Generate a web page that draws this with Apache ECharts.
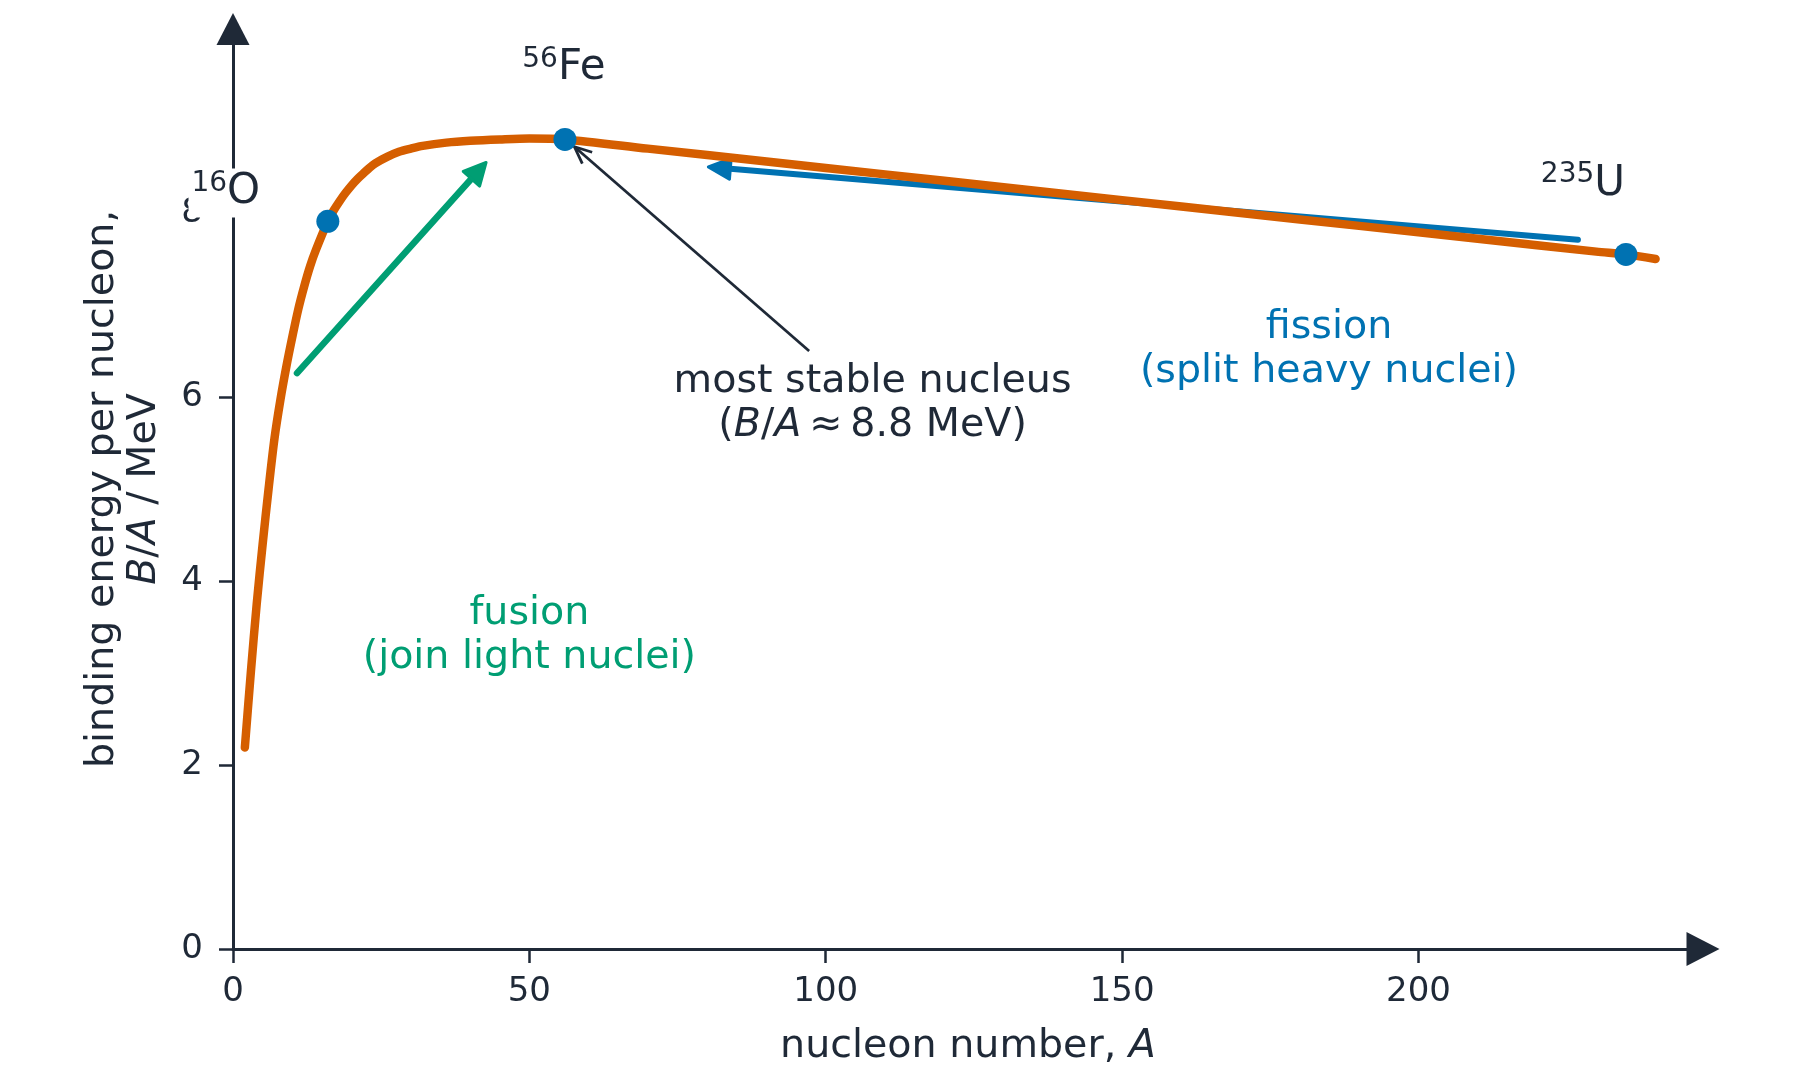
<!DOCTYPE html>
<html>
<head>
<meta charset="utf-8">
<script src="https://cdn.jsdelivr.net/npm/echarts@6/dist/echarts.min.js"></script>
<style>
html, body { margin: 0; padding: 0; background: #fff; }
#main { width: 1800px; height: 1083px; }
</style>
</head>
<body>
<div id="main"></div>
<script>
// binding energy curve
var nucleonA = [2, 3, 4, 5, 6, 7, 8, 9, 10, 11, 12, 13, 14, 16, 17, 18, 19, 20, 21, 22, 23, 24, 26, 28, 30, 32, 36, 40, 45, 50, 56, 70, 90, 110, 130, 150, 170, 190, 210, 230, 235, 240];
var bindingPerA = [2.19, 3.0, 3.75, 4.4, 5.0, 5.55, 5.97, 6.33, 6.65, 6.95, 7.2, 7.42, 7.6, 7.91, 8.03, 8.13, 8.22, 8.3, 8.37, 8.43, 8.49, 8.54, 8.61, 8.665, 8.70, 8.73, 8.765, 8.785, 8.80, 8.81, 8.80, 8.70, 8.56, 8.42, 8.28, 8.14, 8.0, 7.86, 7.72, 7.58, 7.55, 7.50];

// marked nuclides
var nuclideMass = [16, 56, 235];
var nuclideSymbol = ['O', 'Fe', 'U'];
var nuclideBA = [7.91, 8.80, 7.55];

// axis ticks
var xTicks = [0, 50, 100, 150, 200];
var yTicks = [0, 2, 4, 6, 8];

// arrows: [A start, B/A start, A end, B/A end]
var fusionArrow = [10.8, 6.26, 42.7, 8.55];
var fissionArrow = [226.9, 7.71, 80.2, 8.50];
var stableArrow = [97.2, 6.50, 57.6, 8.72];

// text notes: position (A, B/A)
var stableNote = [107.9, 5.93];
var fissionNote = [184.9, 6.51];
var fusionNote = [50.0, 3.41];

var ink = '#1f2937';
var orange = '#d55e00';
var blue = '#0072b2';
var green = '#009e73';
var font = 'DejaVu Sans';

var chartDom = document.getElementById('main');
var myChart = echarts.init(chartDom);

var curve = [];
for (var i = 0; i < nucleonA.length; i++) {
    curve.push([nucleonA[i], bindingPerA[i]]);
}

// label offsets for the nuclide names
var labelOffsets = [[-101.5, -28.2], [-1, -71], [-43, -70.5]];
var nuclides = [];
for (var j = 0; j < nuclideMass.length; j++) {
    var lab = {
        show: true,
        position: 'inside',
        offset: labelOffsets[j],
        formatter: '{sup|' + nuclideMass[j] + '}{el|' + nuclideSymbol[j] + '}',
        rich: {
            sup: { fontSize: 28, fontFamily: font, color: ink, lineHeight: 18, verticalAlign: 'top' },
            el: { fontSize: 42, fontFamily: font, color: ink, lineHeight: 46 }
        }
    };
    if (j === 0) {
        // white box behind 16O hides part of the axis
        lab.backgroundColor = '#fff';
        lab.borderRadius = 8;
        lab.padding = [1, 4, 2, 3];
    }
    nuclides.push({ value: [nuclideMass[j], nuclideBA[j]], label: lab });
}

function arrowRender(color, width, headLen, headWid, open) {
    return function (params, api) {
        var p0 = api.coord([api.value(0), api.value(1)]);
        var p1 = api.coord([api.value(2), api.value(3)]);
        var ang = Math.atan2(p1[1] - p0[1], p1[0] - p0[0]);
        var bx = p1[0] - headLen * Math.cos(ang);
        var by = p1[1] - headLen * Math.sin(ang);
        var nx = -Math.sin(ang) * headWid / 2;
        var ny = Math.cos(ang) * headWid / 2;
        var a = [bx + nx, by + ny];
        var b = [bx - nx, by - ny];
        var kids = [];
        if (open) {
            kids.push({ type: 'line', shape: { x1: p0[0], y1: p0[1], x2: p1[0], y2: p1[1] },
                style: { stroke: color, lineWidth: width } });
            kids.push({ type: 'polyline', shape: { points: [a, p1, b] },
                style: { stroke: color, lineWidth: width, fill: null } });
        } else {
            kids.push({ type: 'line', shape: { x1: p0[0], y1: p0[1], x2: bx, y2: by },
                style: { stroke: color, lineWidth: width, lineCap: 'round' } });
            kids.push({ type: 'polygon', shape: { points: [a, p1, b] },
                style: { fill: color, stroke: color, lineWidth: 3, lineJoin: 'round' } });
        }
        return { type: 'group', children: kids };
    };
}

function arrowSeries(data, color, width, headLen, headWid, open, z) {
    return {
        type: 'custom',
        silent: true,
        clip: false,
        z: z,
        encode: { x: [0, 2], y: [1, 3] },
        renderItem: arrowRender(color, width, headLen, headWid, open),
        data: [data]
    };
}

function noteSeries(pos, text, color) {
    return {
        type: 'scatter',
        silent: true,
        symbolSize: 0,
        z: 6,
        itemStyle: { opacity: 1 },
        data: [pos],
        label: {
            show: true,
            position: 'inside',
            formatter: text,
            color: color,
            opacity: 1,
            fontFamily: font,
            fontSize: 39.6,
            lineHeight: 44,
            align: 'center',
            rich: {
                n: { color: color, fontFamily: font, fontSize: 39.6, lineHeight: 44 },
                i: { color: color, fontFamily: font, fontSize: 39.6, lineHeight: 44, fontStyle: 'italic' }
            }
        }
    };
}

var option = {
    animation: false,
    backgroundColor: '#fff',
    grid: { left: 233, right: 97, top: 29, bottom: 134, outerBoundsMode: 'none' },
    xAxis: {
        type: 'value',
        min: 0,
        max: 248,
        name: 'nucleon number, {i|A}',
        nameLocation: 'middle',
        nameGap: 78,
        nameTextStyle: {
            color: ink, fontFamily: font, fontSize: 39.6,
            rich: { i: { color: ink, fontFamily: font, fontSize: 39.6, fontStyle: 'italic' } }
        },
        axisLine: {
            onZero: false,
            lineStyle: { color: ink, width: 3 },
            symbol: ['none', 'triangle'],
            symbolSize: [34, 33]
        },
        axisTick: { customValues: xTicks, length: 14, lineStyle: { color: ink, width: 2.5 } },
        axisLabel: { customValues: xTicks, color: ink, fontFamily: font, fontSize: 34, margin: 26.5 },
        splitLine: { show: false }
    },
    yAxis: {
        type: 'value',
        min: 0,
        max: 10,
        name: 'binding energy per nucleon,\n{i|B}/{i|A} / MeV',
        nameLocation: 'middle',
        nameRotate: 90,
        nameGap: 67.5,
        nameTextStyle: {
            color: ink, fontFamily: font, fontSize: 39.6, lineHeight: 42, align: 'center',
            rich: { i: { color: ink, fontFamily: font, fontSize: 39.6, lineHeight: 42, fontStyle: 'italic' } }
        },
        axisLine: {
            onZero: false,
            lineStyle: { color: ink, width: 3 },
            symbol: ['none', 'triangle'],
            symbolSize: [33, 32]
        },
        axisTick: { customValues: yTicks, length: 14, lineStyle: { color: ink, width: 2.5 } },
        axisLabel: { customValues: yTicks, color: ink, fontFamily: font, fontSize: 34, margin: 30 },
        splitLine: { show: false }
    },
    series: [
        arrowSeries(fusionArrow, green, 6.5, 22, 22, false, 3),
        arrowSeries(fissionArrow, blue, 6, 22, 21, false, 3),
        {
            type: 'line',
            name: 'B/A',
            data: curve,
            smooth: 0.3,
            showSymbol: false,
            silent: true,
            z: 4,
            lineStyle: { color: orange, width: 8.5, cap: 'round', join: 'round' }
        },
        arrowSeries(stableArrow, ink, 2.8, 17, 15, true, 5),
        {
            type: 'scatter',
            name: 'nuclides',
            symbol: 'circle',
            symbolSize: 23,
            silent: true,
            z: 6,
            itemStyle: { color: blue, opacity: 1 },
            data: nuclides
        },
        noteSeries(stableNote, 'most stable nucleus\n{n|(}{i|B}{n|/}{i|A}{n|\u2009≈\u20098.8 MeV)}', ink),
        noteSeries(fissionNote, 'fission\n(split heavy nuclei)', blue),
        noteSeries(fusionNote, 'fusion\n(join light nuclei)', green)
    ]
};

option && myChart.setOption(option);
</script>
</body>
</html>
